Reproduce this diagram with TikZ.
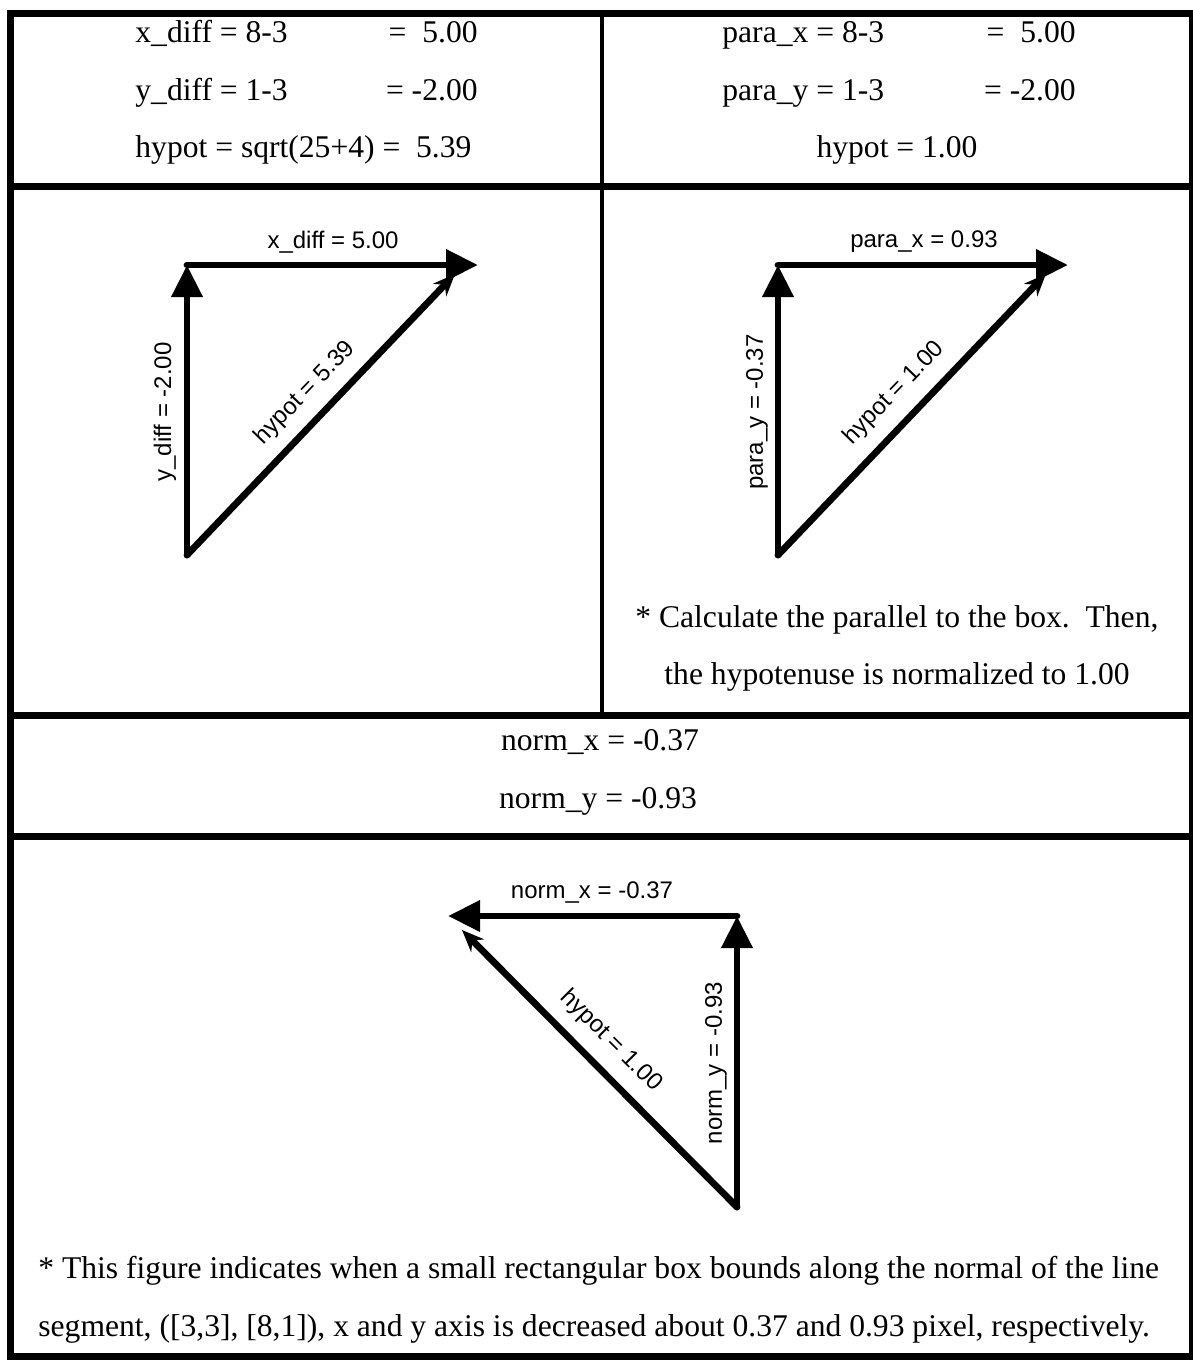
\documentclass[tikz,border=0pt]{standalone}
\usepackage{fontspec}
\setmainfont{Liberation Serif}
\newfontfamily\arialfont{Liberation Sans}
\usetikzlibrary{arrows.meta,positioning}

\begin{document}
\begin{tikzpicture}[x=0.5pt,y=-0.5pt,line cap=round,line join=miter,
    regla/.style={line width=3.5pt,line cap=butt},
    vec/.style={line width=3.4pt,-{Triangle[length=16pt,width=15pt]}},
    hipo/.style={line width=3.4pt,-{Stealth[length=11pt,width=9pt]}},
    txt/.style={font=\fontsize{15.8}{19}\selectfont,inner sep=0pt},
    etq/.style={font=\arialfont\fontsize{12}{14}\selectfont,inner sep=0pt}]
  \useasboundingbox (0,0) rectangle (1193,1362);
  % marco y rejilla
  \draw[regla] (10,13) rectangle (1192,1356);
  \foreach \y in {186,715,836}{
    \draw[regla] (10,\y) -- (1192,\y);
  }
  \draw[line width=2pt] (602,13) -- (602,715);
  % tabla superior izquierda
  \node[txt,anchor=base west] (xd) at (135,42) {x\_diff = 8-3};
  \node[txt,anchor=base east] (xdv) at (478,42) {=\ \ 5.00};
  \node[txt,anchor=base west] (yd) at (135,100) {y\_diff = 1-3};
  \node[txt,anchor=base east] (ydv) at (478,100) {= -2.00};
  \node[txt,anchor=base west] (hy) at (135,157) {hypot = sqrt(25+4) =\ \ 5.39};
  % tabla superior derecha
  \node[txt,anchor=base west] (px) at (722,42) {para\_x = 8-3};
  \node[txt,anchor=base east] (pxv) at (1076,42) {=\ \ 5.00};
  \node[txt,anchor=base west] (py) at (722,100) {para\_y = 1-3};
  \node[txt,anchor=base east] (pyv) at (1076,100) {= -2.00};
  \node[txt,anchor=base] (ph) at (897,157) {hypot = 1.00};
  % triangulo izquierdo
  \coordinate (b1) at (187,555);
  \coordinate (t1) at (187,265);
  \coordinate (h1) at (478,265);
  \coordinate (p1) at (455,274);
  \draw[vec] (b1) -- (t1);
  \draw[vec] (t1) -- (h1);
  \draw[hipo] (b1) -- (p1);
  \node[etq] (lx1) at (333,242) {x\_diff = 5.00};
  \node[etq,rotate=90] (ly1) at (165,412) {y\_diff = -2.00};
  \node[etq,rotate=46] (lh1) at (305,393) {hypot = 5.39};
  % triangulo derecho
  \coordinate (b2) at (778,555);
  \coordinate (t2) at (778,265);
  \coordinate (h2) at (1068,265);
  \coordinate (p2) at (1046,274);
  \draw[vec] (b2) -- (t2);
  \draw[vec] (t2) -- (h2);
  \draw[hipo] (b2) -- (p2);
  \node[etq] (lx2) at (924,242) {para\_x = 0.93};
  \node[etq,rotate=90] (ly2) at (757,412) {para\_y = -0.37};
  \node[etq,rotate=46] (lh2) at (894,393) {hypot = 1.00};
  \node[txt,anchor=base west] (nota1) at (635,627)
        {* Calculate the parallel to the box.\ \ Then,};
  \node[txt,anchor=base] (nota2) at (897,684)
        {the hypotenuse is normalized to 1.00};
  % fila normal
  \node[txt,anchor=base] (nx) at (600,750) {norm\_x = -0.37};
  \node[txt,anchor=base] (ny) at (598,808) {norm\_y = -0.93};
  % triangulo inferior
  \coordinate (b3) at (737,1207);
  \coordinate (t3) at (737,916);
  \coordinate (h3) at (448,916);
  \coordinate (p3) at (462,930);
  \draw[vec] (b3) -- (t3);
  \draw[vec] (t3) -- (h3);
  \draw[hipo] (b3) -- (p3);
  \node[etq] (lx3) at (592,892) {norm\_x = -0.37};
  \node[etq,rotate=90] (ly3) at (716,1063) {norm\_y = -0.93};
  \node[etq,rotate=-45] (lh3) at (611,1041) {hypot = 1.00};
  % nota final
  \node[txt,anchor=base west] (pie1) at (38,1278)
        {* This figure indicates when a small rectangular box bounds along the normal of the line};
  \node[txt,anchor=base west] (pie2) at (38,1336)
        {segment, ([3,3], [8,1]), x and y axis is decreased about 0.37 and 0.93 pixel, respectively.};
\end{tikzpicture}
\end{document}
